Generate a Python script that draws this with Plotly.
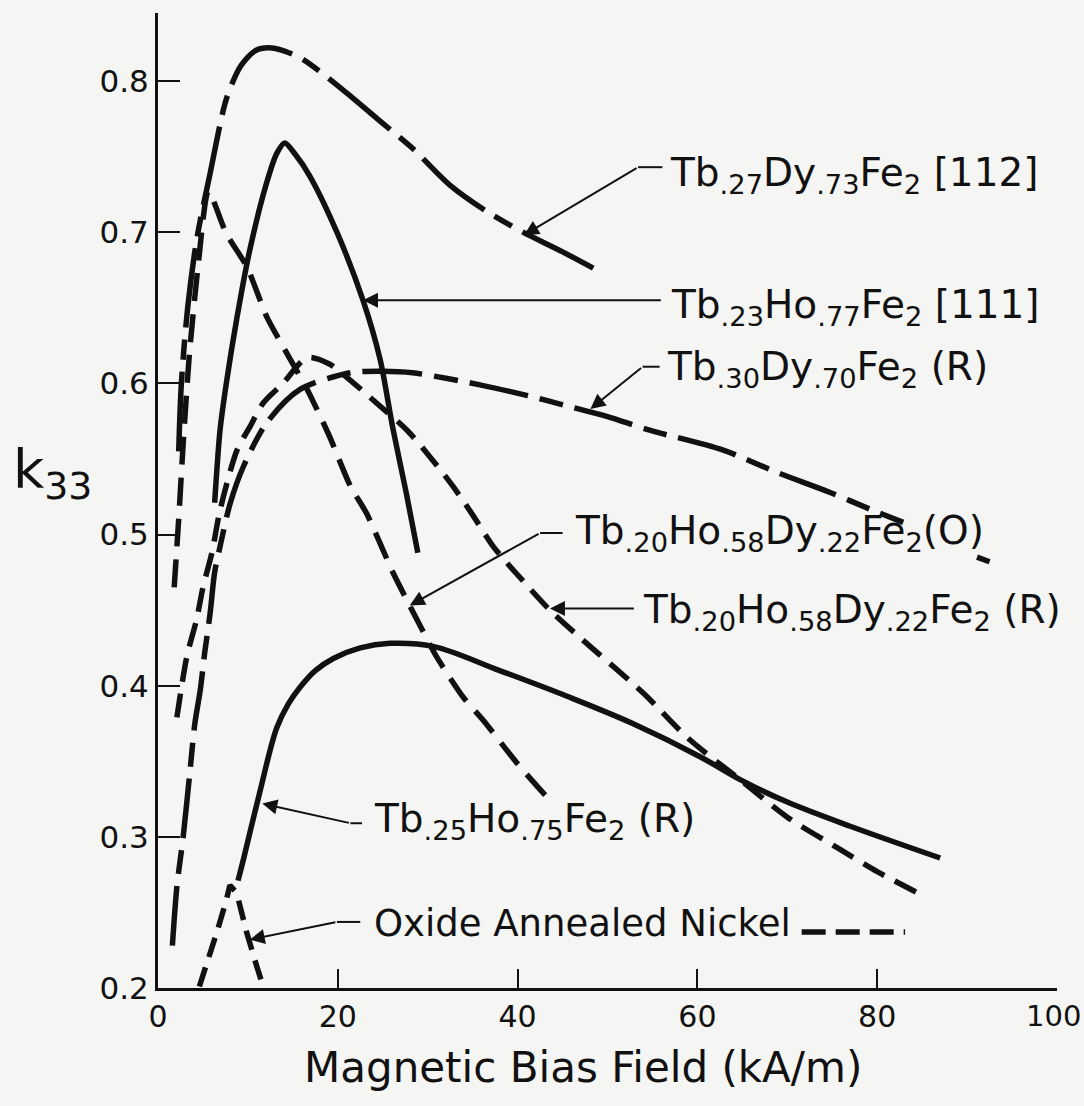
import plotly.graph_objects as go

# ---------------- data ----------------
x_tbdy_112 = [2.3, 2.6, 3.3, 4.3, 5.8, 7.6, 9.2, 10.8, 12.3, 14.0, 16.2, 20.6, 25.0, 28.4, 32.5, 36.5, 40.6, 45.0, 49.1]
y_tbdy_112 = [0.555, 0.600, 0.650, 0.695, 0.739, 0.788, 0.810, 0.820, 0.822, 0.820, 0.814, 0.794, 0.772, 0.755, 0.731, 0.714, 0.700, 0.687, 0.674]

x_tbho_111 = [6.3, 6.9, 7.6, 8.8, 10.2, 12.1, 13.2, 14.1, 15.2, 16.9, 19.9, 22.8, 24.7, 26.1, 27.6, 28.9]
y_tbho_111 = [0.521, 0.569, 0.600, 0.644, 0.688, 0.733, 0.752, 0.759, 0.752, 0.737, 0.700, 0.655, 0.616, 0.571, 0.528, 0.488]

x_tbdy_30 = [1.6, 2.1, 2.8, 3.6, 4.1, 4.7, 5.2, 5.8, 6.3, 6.9, 8.0, 9.5, 12.1, 15.8, 21.4, 25.0, 28.3, 35.8, 41.0, 46.2, 50.0, 54.7, 62.8, 68.9, 74.7, 79.5, 82.9]
y_tbdy_30 = [0.228, 0.267, 0.300, 0.346, 0.375, 0.397, 0.422, 0.448, 0.475, 0.492, 0.520, 0.545, 0.574, 0.596, 0.607, 0.608, 0.607, 0.599, 0.592, 0.584, 0.578, 0.569, 0.556, 0.541, 0.528, 0.516, 0.508]
# last dash of the same curve, after the gap left around the "(O)" label
x_tbdy_30_end = [91.1, 92.5]
y_tbdy_30_end = [0.485, 0.482]

x_tbhody_o = [1.8, 2.3, 2.8, 3.5, 4.5, 5.6, 7.6, 9.9, 12.1, 14.7, 16.6, 19.0, 21.4, 23.2, 26.2, 28.0, 31.0, 34.0, 36.2, 39.9, 43.6]
y_tbhody_o = [0.465, 0.510, 0.560, 0.620, 0.680, 0.727, 0.699, 0.677, 0.644, 0.616, 0.596, 0.566, 0.532, 0.514, 0.474, 0.453, 0.419, 0.392, 0.377, 0.349, 0.324]

x_tbhody_r = [2.1, 3.2, 4.3, 5.0, 6.0, 6.9, 8.8, 10.2, 11.7, 13.9, 16.6, 19.0, 21.4, 24.3, 27.7, 30.3, 32.8, 35.0, 37.3, 40.5, 43.6, 47.3, 54.0, 59.0, 64.7, 70.0, 75.5, 80.0, 84.8]
y_tbhody_r = [0.379, 0.419, 0.444, 0.465, 0.488, 0.516, 0.556, 0.571, 0.587, 0.600, 0.617, 0.613, 0.602, 0.587, 0.569, 0.551, 0.532, 0.513, 0.492, 0.470, 0.450, 0.430, 0.395, 0.365, 0.338, 0.313, 0.293, 0.277, 0.262]

x_tbho_25 = [8.9, 9.5, 11.3, 13.2, 14.5, 15.8, 17.5, 19.5, 22.5, 25.8, 30.6, 38.0, 45.5, 52.8, 60.3, 64.7, 70.0, 77.0, 87.0]
y_tbho_25 = [0.271, 0.285, 0.329, 0.372, 0.388, 0.399, 0.410, 0.418, 0.425, 0.428, 0.426, 0.410, 0.393, 0.375, 0.353, 0.338, 0.323, 0.307, 0.286]

x_nickel = [4.6, 5.6, 6.5, 7.6, 8.0, 8.75, 9.9, 11.0, 11.7]
y_nickel = [0.201, 0.219, 0.236, 0.258, 0.268, 0.263, 0.236, 0.214, 0.201]

x_ticks = [0, 20, 40, 60, 80, 100]
x_tick_labels = ["0", "20", "40", "60", "80", "100"]
y_ticks = [0.2, 0.3, 0.4, 0.5, 0.6, 0.7, 0.8]
y_tick_labels = ["0.2", "0.3", "0.4", "0.5", "0.6", "0.7", "0.8"]

label_112 = "Tb<sub>.27</sub>Dy<sub>.73</sub>Fe<sub>2</sub> [112]"
label_111 = "Tb<sub>.23</sub>Ho<sub>.77</sub>Fe<sub>2</sub> [111]"
label_30 = "Tb<sub>.30</sub>Dy<sub>.70</sub>Fe<sub>2</sub> (R)"
label_o = "Tb<sub>.20</sub>Ho<sub>.58</sub>Dy<sub>.22</sub>Fe<sub>2</sub>(O)"
label_r = "Tb<sub>.20</sub>Ho<sub>.58</sub>Dy<sub>.22</sub>Fe<sub>2</sub> (R)"
label_25 = "Tb<sub>.25</sub>Ho<sub>.75</sub>Fe<sub>2</sub> (R)"
label_ni = "Oxide Annealed Nickel"

# ---------------- styling ----------------
INK = "#111111"
BG = "#f5f5f3"
FONT = "DejaVu Sans"
LW = 5.5
TICK_FONT_X = dict(family=FONT, size=30, color=INK)

fig = go.Figure()


def add_curve(x, y, dash, shape="spline", smoothing=0.8):
    fig.add_trace(go.Scatter(
        x=x, y=y, mode="lines", showlegend=False, hoverinfo="skip",
        line=dict(color=INK, width=LW, dash=dash, shape=shape, smoothing=smoothing),
    ))


add_curve(x_tbdy_112, y_tbdy_112, "80px,12px,20px,12px")
add_curve(x_tbho_111, y_tbho_111, "solid")
add_curve(x_tbdy_30, y_tbdy_30, "60px,12px,24px,12px")
add_curve(x_tbdy_30_end, y_tbdy_30_end, "solid", shape="linear")
add_curve(x_tbhody_o, y_tbhody_o, "28px,13px", smoothing=0.6)
add_curve(x_tbhody_r, y_tbhody_r, "24px,12px")
add_curve(x_tbho_25, y_tbho_25, "solid", smoothing=1.0)
add_curve(x_nickel, y_nickel, "20px,11px", shape="linear")

annotations = []
shapes = []


def leader(tip, tail, stub_end=None):
    # arrow from tail to tip
    annotations.append(dict(
        x=tip[0], y=tip[1], ax=tail[0], ay=tail[1],
        xref="x", yref="y", axref="x", ayref="y",
        text="", showarrow=True, arrowhead=2, arrowsize=1.5,
        arrowwidth=2, arrowcolor=INK, standoff=0,
    ))
    if stub_end is not None:
        shapes.append(dict(type="line", xref="x", yref="y",
                           x0=tail[0], y0=tail[1], x1=stub_end[0], y1=stub_end[1],
                           line=dict(color=INK, width=2)))


def label(x, y, text, yshift=-5, size=39):
    annotations.append(dict(
        x=x, y=y, xref="x", yref="y", xanchor="left", yanchor="middle",
        text=text, showarrow=False, yshift=yshift,
        font=dict(family=FONT, size=size, color=INK),
    ))


# Tb.27Dy.73Fe2 [112]
leader((40.7, 0.698), (53.4, 0.743), stub_end=(56.1, 0.743))
label(56.7, 0.741, label_112)
# Tb.23Ho.77Fe2 [111]
leader((22.8, 0.655), (56.1, 0.655))
label(56.8, 0.654, label_111)
# Tb.30Dy.70Fe2 (R)
leader((48.1, 0.583), (53.9, 0.611), stub_end=(55.8, 0.611))
label(56.4, 0.613, label_30)
# Tb.20Ho.58Dy.22Fe2 (O)
leader((28.0, 0.453), (42.5, 0.501), stub_end=(45.0, 0.501))
label(46.2, 0.504, label_o)
# Tb.20Ho.58Dy.22Fe2 (R)
leader((43.6, 0.451), (53.1, 0.451))
label(53.7, 0.452, label_r)
# Tb.25Ho.75Fe2 (R)
leader((11.6, 0.322), (21.4, 0.309), stub_end=(22.7, 0.309))
label(23.8, 0.3135, label_25)
# Oxide annealed nickel
leader((10.2, 0.232), (19.9, 0.2437), stub_end=(22.5, 0.2437))
label(23.8, 0.243, label_ni, yshift=0, size=37)
# dash sample after the nickel label
shapes.append(dict(type="line", xref="x", yref="y", x0=71.6, y0=0.237, x1=83.1, y1=0.237,
                   line=dict(color=INK, width=LW, dash="24px,10px")))

# last x tick label drawn as an annotation so it can sit at the right edge
annotations.append(dict(
    x=x_ticks[-1], y=0, xref="x", yref="paper", xanchor="center", yanchor="top",
    xshift=-4, yshift=-9, text=x_tick_labels[-1], showarrow=False,
    font=dict(family=FONT, size=29, color=INK),
))

# axis titles
annotations.append(dict(
    x=0.473, y=-0.082, xref="paper", yref="paper", xanchor="center", yanchor="middle",
    text="Magnetic Bias Field (kA/m)", showarrow=False,
    font=dict(family=FONT, size=42, color=INK),
))
annotations.append(dict(
    x=-0.163, y=0.528, xref="paper", yref="paper", xanchor="left", yanchor="middle",
    text="k<sub>33</sub>", showarrow=False,
    font=dict(family=FONT, size=54, color=INK),
))

fig.update_layout(
    width=1084, height=1106,
    margin=dict(l=158, r=27, t=13, b=118),
    paper_bgcolor=BG, plot_bgcolor=BG,
    showlegend=False,
    annotations=annotations,
    shapes=shapes,
    xaxis=dict(
        range=[0, 100], tickmode="array", tickvals=x_ticks,
        ticktext=x_tick_labels[:-1] + [""],
        ticks="inside", ticklen=19, tickwidth=2, tickcolor=INK,
        showline=True, linewidth=3, linecolor=INK, showgrid=False, zeroline=False,
        tickfont=TICK_FONT_X, automargin=False,
    ),
    yaxis=dict(
        range=[0.2, 0.845], tickmode="array", tickvals=y_ticks, ticktext=y_tick_labels,
        ticks="inside", ticklen=22, tickwidth=2, tickcolor=INK,
        showline=True, linewidth=3, linecolor=INK, showgrid=False, zeroline=False,
        tickfont=dict(family=FONT, size=31, color=INK), automargin=False,
    ),
)

fig.write_html("out.html", config={"displayModeBar": False},
               post_script="document.body.style.margin='0';")
